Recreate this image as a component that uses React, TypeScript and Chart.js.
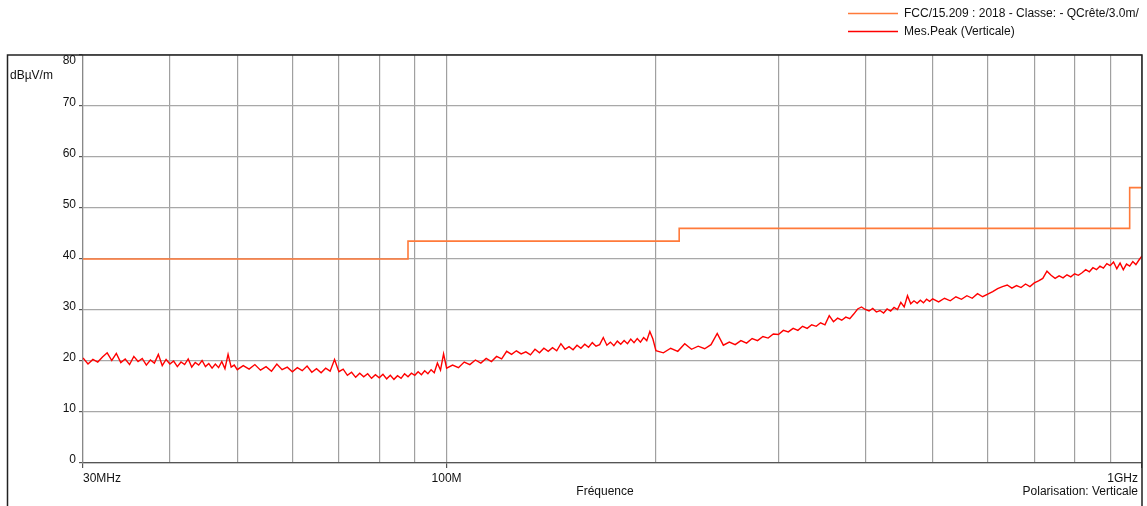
import { useEffect, useRef } from "react";
import { Chart, registerables } from "chart.js";

Chart.register(...registerables);

// FCC 15.209 limit (3 m, quasi-peak) — frequency in MHz, level in dBµV/m
const limitFreq = [30, 88, 216, 960, 1000];
const limitLevel = [40, 43.5, 46, 54, 54];

const measFreqA = [30, 30.5, 31, 31.5, 32, 32.5, 33, 33.5, 34, 34.5, 35, 35.5, 36, 36.5, 37, 37.5, 38, 38.5, 39, 39.5, 40, 40.5, 41, 41.5, 42, 42.5, 43, 43.5, 44, 44.5, 45, 45.5, 46, 46.5, 47, 47.5, 48, 48.5, 49, 49.5, 50];
const measLevelA = [20.6, 19.4, 20.3, 19.8, 20.8, 21.6, 20.1, 21.5, 19.7, 20.4, 19.3, 20.9, 19.9, 20.5, 19.2, 20.2, 19.6, 21.3, 19.1, 20.3, 19.4, 20.0, 18.9, 19.8, 19.3, 20.4, 18.8, 19.7, 19.2, 20.1, 18.9, 19.5, 18.6, 19.4, 18.7, 19.9, 18.5, 21.3, 18.8, 19.2, 18.3];

const measFreqB = [51, 52, 53, 54, 55, 56, 57, 58, 59, 60, 61, 62, 63, 64, 65, 66, 67, 68, 69, 70, 71, 72, 73, 74, 75, 76, 77, 78, 79, 80, 81, 82, 83, 84, 85, 86, 87, 88, 89, 90, 91, 92, 93, 94, 95, 96, 97, 98, 99, 100];
const measLevelB = [19.1, 18.4, 19.3, 18.2, 18.9, 18.0, 19.4, 18.3, 18.8, 17.9, 18.7, 18.1, 19.0, 17.8, 18.5, 17.7, 18.6, 18.0, 20.3, 17.9, 18.4, 17.2, 17.8, 16.8, 17.6, 16.9, 17.5, 16.6, 17.3, 16.7, 17.4, 16.5, 17.2, 16.4, 17.1, 16.6, 17.5, 16.9, 17.6, 17.2, 17.9, 17.3, 18.1, 17.5, 18.3, 17.7, 19.6, 18.2, 21.4, 18.6];

const measFreqC = [102, 104, 106, 108, 110, 112, 114, 116, 118, 120, 122, 124, 126, 128, 130, 132, 134, 136, 138, 140, 142, 144, 146, 148, 150, 152, 154, 156, 158, 160, 162, 164, 166, 168, 170, 172, 174, 176, 178, 180, 182, 184, 186, 188, 190, 192, 194, 196, 198, 200];
const measLevelC = [19.2, 18.7, 19.8, 19.3, 20.2, 19.6, 20.5, 19.9, 20.9, 20.4, 21.9, 21.3, 22.0, 21.4, 21.8, 21.2, 22.3, 21.6, 22.5, 21.9, 22.6, 22.0, 23.4, 22.3, 22.8, 22.2, 23.1, 22.5, 23.3, 22.7, 23.6, 22.9, 23.2, 24.6, 23.1, 23.7, 23.0, 23.9, 23.3, 24.0, 23.4, 24.3, 23.6, 24.4, 23.7, 24.6, 24.0, 25.8, 24.3, 22.0];

const measFreqD = [205, 210, 215, 220, 225, 230, 235, 240, 245, 250, 255, 260, 265, 270, 275, 280, 285, 290, 295, 300, 305, 310, 315, 320, 325, 330, 335, 340, 345, 350, 355, 360, 365, 370, 375, 380, 385, 390, 395, 400, 405, 410, 415, 420, 425, 430, 435, 440, 445, 450, 455, 460, 465, 470, 475, 480, 485, 490, 495, 500];
const measLevelD = [21.6, 22.5, 21.9, 23.4, 22.3, 22.9, 22.4, 23.2, 25.4, 23.1, 23.7, 23.2, 24.0, 23.5, 24.4, 24.0, 24.8, 24.5, 25.3, 25.2, 26.0, 25.7, 26.4, 26.0, 26.8, 26.4, 27.1, 26.8, 27.5, 27.1, 28.9, 27.7, 28.4, 28.0, 28.6, 28.3, 29.2, 30.2, 30.6, 30.1, 29.8, 30.3, 29.6, 29.9, 29.4, 30.2, 29.8, 30.5, 30.1, 31.5, 30.6, 32.8, 31.2, 31.8, 31.3, 31.9, 31.4, 32.1, 31.7, 32.2];

const measFreqE = [510, 520, 530, 540, 550, 560, 570, 580, 590, 600, 610, 620, 630, 640, 650, 660, 670, 680, 690, 700, 710, 720, 730, 740, 750, 760, 770, 780, 790, 800, 810, 820, 830, 840, 850, 860, 870, 880, 890, 900, 910, 920, 930, 940, 950, 960, 970, 980, 990, 1000];
const measLevelE = [31.6, 32.3, 31.8, 32.6, 32.1, 32.8, 32.3, 33.2, 32.6, 33.1, 33.6, 34.2, 34.6, 34.9, 34.3, 34.8, 34.4, 35.1, 34.6, 35.3, 35.7, 36.2, 37.6, 36.8, 36.2, 36.7, 36.3, 36.9, 36.5, 37.1, 36.8, 37.3, 37.9, 37.5, 38.3, 37.9, 38.6, 38.2, 39.1, 38.7, 39.4, 38.1, 39.2, 37.9, 39.0, 38.6, 39.5, 38.9, 39.8, 40.6];

const measFreq = [...measFreqA, ...measFreqB, ...measFreqC, ...measFreqD, ...measFreqE];
const measLevel = [...measLevelA, ...measLevelB, ...measLevelC, ...measLevelD, ...measLevelE];

// Axes
const xGridValues = [30, 40, 50, 60, 70, 80, 90, 100, 200, 300, 400, 500, 600, 700, 800, 900, 1000];
const xLabelValues = [30, 100, 1000];
const xLabelTexts = ["30MHz", "100M", "1GHz"];
const yTickValues = [0, 10, 20, 30, 40, 50, 60, 70, 80];

const seriesNames = ["FCC/15.209 : 2018 - Classe: - QCrête/3.0m/", "Mes.Peak (Verticale)"];
const seriesColors = ["#ff7a3a", "#ff0000"];

const FONT = '12px "Liberation Sans", Arial, Helvetica, sans-serif';

const decorPlugin = {
  id: "decor",
  afterDraw(chart: any) {
    const { ctx, chartArea } = chart;
    const xs = chart.scales.x;
    const ys = chart.scales.y;
    ctx.save();
    // outer frame
    ctx.strokeStyle = "#222";
    ctx.lineWidth = 1.5;
    ctx.beginPath();
    ctx.moveTo(7.5, 506);
    ctx.lineTo(7.5, chartArea.top);
    ctx.lineTo(chartArea.right, chartArea.top);
    ctx.lineTo(chartArea.right, 506);
    ctx.stroke();

    ctx.font = FONT;
    ctx.fillStyle = "#111";
    // y labels
    ctx.textAlign = "right";
    ctx.textBaseline = "middle";
    yTickValues.forEach((v, i) => {
      const py = ys.getPixelForValue(v);
      const dy = i === yTickValues.length - 1 ? 6 : -3;
      ctx.fillText(String(v), chartArea.left - 7, py + dy);
    });
    // unit
    ctx.textAlign = "left";
    ctx.fillText("dBµV/m", 10, 76);

    // x labels
    xLabelValues.forEach((v, i) => {
      const px = xs.getPixelForValue(v);
      ctx.textAlign = i === 0 ? "left" : i === xLabelValues.length - 1 ? "right" : "center";
      const ox = i === xLabelValues.length - 1 ? -4 : 0;
      ctx.fillText(xLabelTexts[i], px + ox, 479);
    });
    ctx.textAlign = "center";
    ctx.fillText("Fréquence", 605, 492);
    ctx.textAlign = "right";
    ctx.fillText("Polarisation: Verticale", chartArea.right - 4, 492);

    // legend
    seriesNames.forEach((name, i) => {
      const ly = 13.5 + i * 18;
      ctx.strokeStyle = seriesColors[i];
      ctx.lineWidth = 1.5;
      ctx.beginPath();
      ctx.moveTo(848, ly);
      ctx.lineTo(898, ly);
      ctx.stroke();
      ctx.textAlign = "left";
      ctx.fillStyle = "#111";
      ctx.fillText(name, 904, ly);
    });
    ctx.restore();
  },
};

export default function App() {
  const ref = useRef<HTMLCanvasElement>(null);
  useEffect(() => {
    document.body.style.margin = "0";
    const canvas = ref.current!;
    const chart = new Chart(canvas, {
      type: "line",
      data: {
        datasets: [
          {
            label: seriesNames[0],
            data: limitFreq.map((f, i) => ({ x: f, y: limitLevel[i] })),
            borderColor: seriesColors[0],
            borderWidth: 1.6,
            pointRadius: 0,
            stepped: "before",
            fill: false,
          },
          {
            label: seriesNames[1],
            data: measFreq.map((f, i) => ({ x: f, y: measLevel[i] })),
            borderColor: seriesColors[1],
            borderWidth: 1.4,
            pointRadius: 0,
            tension: 0,
            fill: false,
          },
        ],
      },
      options: {
        animation: false,
        responsive: false,
        devicePixelRatio: 1,
        layout: { padding: { left: 0, right: 5, top: 55, bottom: 0 } },
        plugins: { legend: { display: false }, tooltip: { enabled: false } },
        scales: {
          x: {
            type: "logarithmic",
            min: 30,
            max: 1000,
            afterBuildTicks: (scale: any) => {
              scale.ticks = xGridValues.map((v) => ({ value: v }));
            },
            afterFit: (scale: any) => {
              scale.height = 43;
            },
            ticks: { display: false },
            grid: {
              color: "#a0a0a0",
              lineWidth: 1.2,
              drawTicks: true,
              tickLength: 5,
              tickColor: (c: any) =>
                c.tick && xLabelValues.includes(c.tick.value) ? "#555" : "rgba(0,0,0,0)",
            },
            border: { color: "#555", width: 1.2 },
          },
          y: {
            type: "linear",
            min: 0,
            max: 80,
            afterBuildTicks: (scale: any) => {
              scale.ticks = yTickValues.map((v) => ({ value: v }));
            },
            afterFit: (scale: any) => {
              scale.width = 83;
            },
            ticks: { display: false },
            grid: {
              color: "#a8a8a8",
              lineWidth: 1.2,
              drawTicks: true,
              tickLength: 4,
              tickColor: "#555",
            },
            border: { color: "#888", width: 1.2 },
          },
        },
      },
      plugins: [decorPlugin],
    } as any);
    return () => chart.destroy();
  }, []);
  return (
    <canvas
      ref={ref}
      width={1147}
      height={506}
      style={{ display: "block", width: 1147, height: 506 }}
    />
  );
}
